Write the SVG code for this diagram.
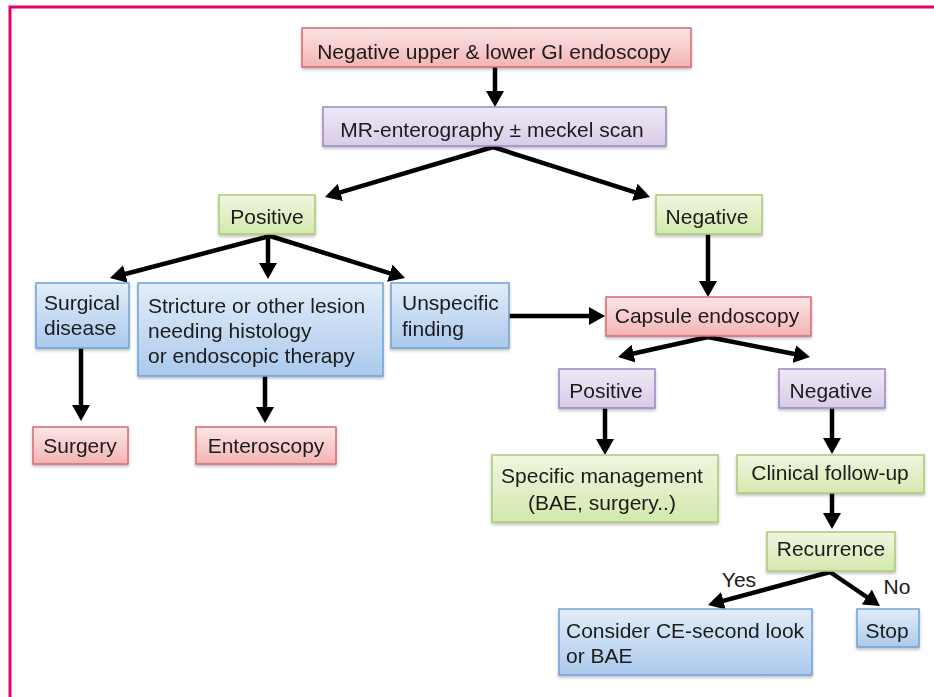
<svg xmlns="http://www.w3.org/2000/svg" width="934" height="697" viewBox="0 0 934 697">
<style>
text{font-family:"Liberation Sans",Arial,sans-serif;font-size:21px;fill:#1a1a1a}
.c{text-anchor:middle}
.red{fill:url(#gRed);stroke:#d86a6e;stroke-width:1.5}
.pur{fill:url(#gPur);stroke:#9c86c3;stroke-width:1.5}
.grn{fill:url(#gGrn);stroke:#a9cc74;stroke-width:1.5}
.blu{fill:url(#gBlu);stroke:#6da2d8;stroke-width:1.5}
.box{filter:url(#sh)}
#connectors line{stroke:#000;stroke-width:4.5;marker-end:url(#ah)}
</style>
<defs>
<linearGradient id="gRed" x1="0" y1="0" x2="0" y2="1"><stop offset="0" stop-color="#fce6e6"/><stop offset="1" stop-color="#f3b3b4"/></linearGradient>
<linearGradient id="gPur" x1="0" y1="0" x2="0" y2="1"><stop offset="0" stop-color="#efe9f5"/><stop offset="1" stop-color="#d8cbe8"/></linearGradient>
<linearGradient id="gGrn" x1="0" y1="0" x2="0" y2="1"><stop offset="0" stop-color="#f0f6e0"/><stop offset="1" stop-color="#d4e8ae"/></linearGradient>
<linearGradient id="gBlu" x1="0" y1="0" x2="0" y2="1"><stop offset="0" stop-color="#e2edf9"/><stop offset="1" stop-color="#abc9ec"/></linearGradient>
<filter id="sh" x="-10%" y="-20%" width="120%" height="150%"><feDropShadow dx="0" dy="2" stdDeviation="1.5" flood-color="#000" flood-opacity="0.25"/></filter>
<marker id="ah" viewBox="0 0 16 18" markerWidth="16" markerHeight="18" refX="8" refY="9" orient="auto" markerUnits="userSpaceOnUse"><path d="M0,0 L16,9 L0,18 z" fill="#000"/></marker>
</defs>
<rect width="934" height="697" fill="#fff"/>
<path d="M10,697 V7 H934" fill="none" stroke="#e4006f" stroke-width="3"/>

<g id="connectors">
<line x1="495" y1="67" x2="495" y2="99"/>
<line x1="493" y1="147" x2="332.7" y2="194.7"/>
<line x1="493" y1="147" x2="642.4" y2="194.6"/>
<line x1="270" y1="236" x2="117.7" y2="276"/>
<line x1="268" y1="236" x2="268" y2="271"/>
<line x1="270" y1="236" x2="397.4" y2="275.6"/>
<line x1="509" y1="316" x2="597" y2="316"/>
<line x1="708" y1="234" x2="708" y2="289"/>
<line x1="708" y1="337" x2="625.8" y2="355.3"/>
<line x1="708" y1="337" x2="802.1" y2="355.5"/>
<line x1="605" y1="408" x2="605" y2="447"/>
<line x1="832" y1="408" x2="832" y2="446"/>
<line x1="832" y1="493" x2="832" y2="521"/>
<line x1="830" y1="572" x2="715.7" y2="602.9"/>
<line x1="830" y1="572" x2="873.4" y2="601.5"/>
<line x1="81" y1="348" x2="81" y2="413"/>
<line x1="265" y1="376" x2="265" y2="415"/>
<text x="739" y="587" class="c">Yes</text>
<text x="897" y="594" class="c">No</text>
</g>

<g id="n1" class="box"><rect x="302" y="28" width="389" height="39" class="red"/><text x="494" y="59" class="c">Negative upper &amp; lower GI endoscopy</text></g>
<g id="n2" class="box"><rect x="323" y="107" width="343" height="39" class="pur"/><text x="492" y="137" class="c">MR-enterography ± meckel scan</text></g>
<g id="n3" class="box"><rect x="219" y="195" width="96" height="39" class="grn"/><text x="267" y="224" class="c">Positive</text></g>
<g id="n4" class="box"><rect x="656" y="195" width="106" height="39" class="grn"/><text x="707" y="224" class="c">Negative</text></g>
<g id="n5" class="box"><rect x="36" y="283" width="93" height="65" class="blu"/><text x="44" y="310">Surgical</text><text x="44" y="335">disease</text></g>
<g id="n6" class="box"><rect x="138" y="283" width="245" height="93" class="blu"/><text x="148" y="313">Stricture or other lesion</text><text x="148" y="338">needing histology</text><text x="148" y="363">or endoscopic therapy</text></g>
<g id="n7" class="box"><rect x="391" y="283" width="118" height="65" class="blu"/><text x="402" y="310">Unspecific</text><text x="402" y="336">finding</text></g>
<g id="n8" class="box"><rect x="606" y="297" width="205" height="39" class="red"/><text x="707" y="323" class="c">Capsule endoscopy</text></g>
<g id="n9" class="box"><rect x="559" y="369" width="96" height="39" class="pur"/><text x="606" y="398" class="c">Positive</text></g>
<g id="n10" class="box"><rect x="779" y="369" width="106" height="39" class="pur"/><text x="831" y="398" class="c">Negative</text></g>
<g id="n11" class="box"><rect x="492" y="455" width="226" height="67" class="grn"/><text x="602" y="483" class="c">Specific management</text><text x="602" y="510" class="c">(BAE, surgery..)</text></g>
<g id="n12" class="box"><rect x="737" y="455" width="187" height="38" class="grn"/><text x="830" y="480" class="c">Clinical follow-up</text></g>
<g id="n13" class="box"><rect x="767" y="532" width="128" height="39" class="grn"/><text x="831" y="556" class="c">Recurrence</text></g>
<g id="n14" class="box"><rect x="559" y="609" width="253" height="66" class="blu"/><text x="566" y="638">Consider CE-second look</text><text x="566" y="663">or BAE</text></g>
<g id="n15" class="box"><rect x="857" y="609" width="62" height="38" class="blu"/><text x="887" y="638" class="c">Stop</text></g>
<g id="n16" class="box"><rect x="33" y="427" width="95" height="37" class="red"/><text x="80" y="453" class="c">Surgery</text></g>
<g id="n17" class="box"><rect x="196" y="427" width="140" height="37" class="red"/><text x="266" y="453" class="c">Enteroscopy</text></g>
</svg>
